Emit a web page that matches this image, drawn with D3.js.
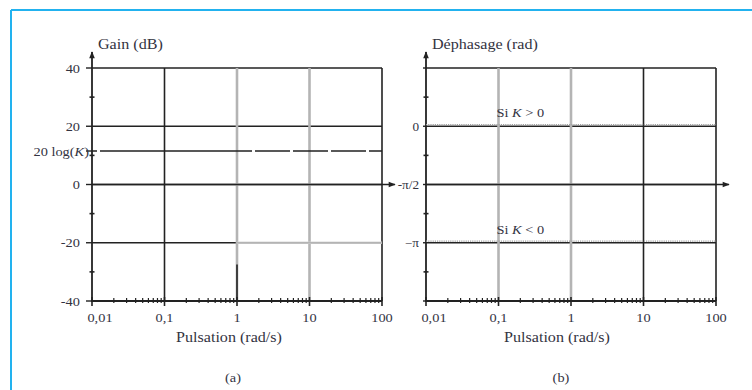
<!DOCTYPE html>
<html>
<head>
<meta charset="utf-8">
<script src="https://cdn.jsdelivr.net/npm/d3@7"></script>
<style>
  body { margin: 0; background: #fff; }
  svg text { font-family: "Liberation Serif", "DejaVu Serif", serif; fill: #33333f; }
</style>
</head>
<body>
<svg id="chart" width="752" height="390"></svg>
<script>
// frequencies (rad/s), log axis
var decades = [0.01, 0.1, 1, 10, 100];
var decadeLabels = ["0,01", "0,1", "1", "10", "100"];

// gain plot
var gainTicks = [40, 20, 0, -20, -40];
var gainLabels = ["40", "20", "0", "-20", "-40"];
var gainMinor = [30, 10, -10, -30];
var gainK = 11.5;               // 20 log(K) in dB
var gainCurve = [[0.01, gainK], [100, gainK]];

// phase plot
var PI = Math.PI;
var phaseTicks = [PI / 2, 0, -PI / 2, -PI, -3 * PI / 2];
var phaseLabels = ["", "0", "-\u03c0/2", "\u2212\u03c0", ""];
var phaseMinor = [PI / 4, -PI / 4, -3 * PI / 4, -5 * PI / 4];
var phasePos = [[0.01, 0], [100, 0]];       // K > 0
var phaseNeg = [[0.01, -PI], [100, -PI]];   // K < 0

var svg = d3.select("#chart");
var dark = "#222";
var grey = "#b4b4b4";

// blue frame (top + left only)
svg.append("line").attr("x1", 11).attr("x2", 752).attr("y1", 10).attr("y2", 10)
    .attr("stroke", "#22b2ef").attr("stroke-width", 2);
svg.append("line").attr("x1", 11).attr("x2", 11).attr("y1", 10).attr("y2", 390)
    .attr("stroke", "#22b2ef").attr("stroke-width", 2);

// arrow head
svg.append("defs").append("marker")
    .attr("id", "arr").attr("viewBox", "0 0 10 10")
    .attr("refX", 9).attr("refY", 5)
    .attr("markerWidth", 9).attr("markerHeight", 7)
    .attr("markerUnits", "userSpaceOnUse")
    .attr("orient", "auto")
  .append("path").attr("d", "M0,1 L10,5 L0,9 Z").attr("fill", dark);

function txt(g, x, y, s, size, anchor) {
    return g.append("text")
        .attr("transform", "translate(" + x + "," + y + ") scale(1.15,1)")
        .attr("text-anchor", anchor || "middle")
        .style("font-size", size + "px")
        .text(s);
}

// draws one bode panel
function panel(opt) {
    var g = svg.append("g");
    var x = d3.scaleLog().domain([0.01, 100]).range([opt.left, opt.left + 290]);
    var y = d3.scaleLinear().domain(opt.domain).range([301, 68]);
    var x0 = x(0.01), x1 = x(100);

    // horizontal grid
    opt.ticks.forEach(function (t) {
        g.append("line").attr("x1", x0).attr("x2", x1)
            .attr("y1", y(t)).attr("y2", y(t))
            .attr("stroke", dark).attr("stroke-width", 1.6);
    });
    // vertical grid
    decades.forEach(function (d, i) {
        if (i == 0) return;
        var isGrey = opt.greyCols.indexOf(d) >= 0;
        g.append("line").attr("x1", x(d)).attr("x2", x(d))
            .attr("y1", y(opt.domain[1])).attr("y2", y(opt.domain[0]))
            .attr("stroke", isGrey ? grey : dark)
            .attr("stroke-width", isGrey ? 2.6 : 1.6);
    });
    if (opt.extra) opt.extra(g, x, y);

    // horizontal axis with arrow
    g.append("line").attr("x1", x0).attr("x2", x1 + 13)
        .attr("y1", y(opt.axisAt)).attr("y2", y(opt.axisAt))
        .attr("stroke", dark).attr("stroke-width", 1.6)
        .attr("marker-end", "url(#arr)");

    // bottom line + log ticks
    g.append("line").attr("x1", x0).attr("x2", x1).attr("y1", 301).attr("y2", 301)
        .attr("stroke", dark).attr("stroke-width", 2.2);
    var minor = [];
    decades.slice(0, 4).forEach(function (d) {
        for (var k = 2; k <= 9; k++) minor.push(d * k);
    });
    g.selectAll(".mx").data(minor).enter().append("line")
        .attr("x1", function (d) { return x(d); }).attr("x2", function (d) { return x(d); })
        .attr("y1", 298).attr("y2", 303)
        .attr("stroke", dark).attr("stroke-width", 1.2);
    g.selectAll(".Mx").data(decades).enter().append("line")
        .attr("x1", function (d) { return x(d); }).attr("x2", function (d) { return x(d); })
        .attr("y1", 297).attr("y2", 306)
        .attr("stroke", dark).attr("stroke-width", 1.6);

    // vertical axis with arrow
    g.append("line").attr("x1", x0).attr("x2", x0).attr("y1", 302).attr("y2", 52)
        .attr("stroke", dark).attr("stroke-width", 1.8)
        .attr("marker-end", "url(#arr)");
    g.selectAll(".my").data(opt.minor).enter().append("line")
        .attr("x1", x0 - 2.5).attr("x2", x0 + 2.5)
        .attr("y1", function (d) { return y(d); }).attr("y2", function (d) { return y(d); })
        .attr("stroke", dark).attr("stroke-width", 1.6);
    g.selectAll(".My").data(opt.ticks).enter().append("line")
        .attr("x1", x0 - opt.tickLen).attr("x2", x0)
        .attr("y1", function (d) { return y(d); }).attr("y2", function (d) { return y(d); })
        .attr("stroke", dark).attr("stroke-width", 1.4);

    // data curves
    if (opt.curves) opt.curves(g, x, y);

    // labels
    opt.ticks.forEach(function (t, i) {
        txt(g, x0 + opt.labelDx, y(t) + 4.5, opt.labels[i], opt.labelSize, "end");
    });
    decades.forEach(function (d, i) {
        txt(g, x(d) + (i == 0 ? 8 : 0), 322, decadeLabels[i], 12.5);
    });
    txt(g, x(1) + opt.titleDx, 342, "Pulsation (rad/s)", 14);
    txt(g, x0 + 6, 49, opt.title, 14, "start");
    txt(g, x(1) + opt.titleDx + 4, 382, opt.tag, 12.5);
    return g;
}

panel({
    left: 92, domain: [-40, 40], ticks: gainTicks, labels: gainLabels, minor: gainMinor,
    greyCols: [1, 10], axisAt: 0, labelDx: -12, labelSize: 12.5, tickLen: 6, titleDx: -8,
    title: "Gain (dB)", tag: "(a)",
    extra: function (g, x, y) {
        // lighter right part of the -20 dB line, dark foot of the 1 rad/s line
        g.append("line").attr("x1", x(1)).attr("x2", x(100)).attr("y1", y(-20)).attr("y2", y(-20))
            .attr("stroke", "#fff").attr("stroke-width", 2);
        g.append("line").attr("x1", x(1)).attr("x2", x(100)).attr("y1", y(-20)).attr("y2", y(-20))
            .attr("stroke", grey).attr("stroke-width", 1.8);
        g.append("line").attr("x1", x(1)).attr("x2", x(1)).attr("y1", y(-27.5)).attr("y2", y(-40))
            .attr("stroke", dark).attr("stroke-width", 1.6);
    },
    curves: function (g, x, y) {
        g.append("path").datum(gainCurve)
            .attr("d", d3.line().x(function (d) { return x(d[0]); }).y(function (d) { return y(d[1]); }))
            .attr("fill", "none").attr("stroke", dark).attr("stroke-width", 1.6)
            .attr("stroke-dasharray", "5,3,152,3,35,3,35,3,35,3,60");
        g.append("line").attr("x1", x(0.01) - 6).attr("x2", x(0.01))
            .attr("y1", y(gainK)).attr("y2", y(gainK))
            .attr("stroke", dark).attr("stroke-width", 1.4);
        var t = g.append("text")
            .attr("transform", "translate(" + (x(0.01) - 3) + "," + (y(gainK) + 4.5) + ") scale(1.15,1)")
            .attr("text-anchor", "end").style("font-size", "12.5px");
        t.append("tspan").text("20 log(");
        t.append("tspan").style("font-style", "italic").text("K");
        t.append("tspan").text(")");
    }
});

panel({
    left: 426, domain: [-3 * PI / 2, PI / 2], ticks: phaseTicks, labels: phaseLabels, minor: phaseMinor,
    greyCols: [0.1, 1], axisAt: -PI / 2, labelDx: -7, labelSize: 11.5, tickLen: 3, titleDx: -14,
    title: "D\u00e9phasage (rad)", tag: "(b)",
    curves: function (g, x, y) {
        var ln = d3.line().x(function (d) { return x(d[0]); }).y(function (d) { return y(d[1]) - 1.6; });
        [phasePos, phaseNeg].forEach(function (c) {
            g.append("path").datum(c).attr("d", ln)
                .attr("fill", "none").attr("stroke", "#a0a0a0").attr("stroke-width", 1.4)
                .attr("stroke-dasharray", "1.2,1");
        });
        [[phasePos, "Si ", " > 0"], [phaseNeg, "Si ", " < 0"]].forEach(function (c) {
            var t = g.append("text")
                .attr("transform", "translate(" + x(0.2) + "," + (y(c[0][0][1]) - 9) + ") scale(1.15,1)")
                .attr("text-anchor", "middle").style("font-size", "12.5px");
            t.append("tspan").text(c[1]);
            t.append("tspan").style("font-style", "italic").text("K");
            t.append("tspan").text(c[2]);
        });
    }
});
</script>
</body>
</html>
